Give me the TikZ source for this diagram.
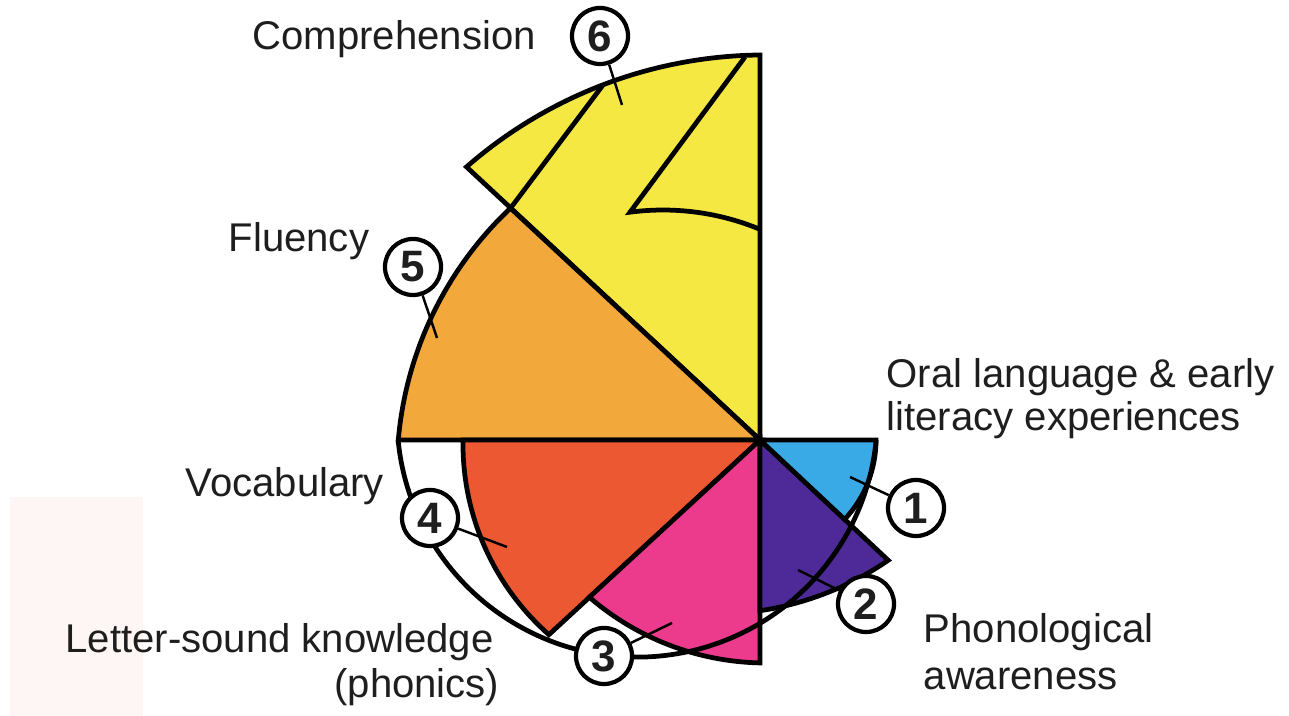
\documentclass[tikz,border=0pt]{standalone}
\usepackage{fontspec}
\setmainfont{Liberation Sans}
\usetikzlibrary{calc}
\definecolor{cYellow}{RGB}{245,232,66}
\definecolor{cOrange}{RGB}{242,168,58}
\definecolor{cRed}{RGB}{236,88,50}
\definecolor{cPink}{RGB}{236,58,140}
\definecolor{cPurple}{RGB}{78,42,152}
\definecolor{cBlue}{RGB}{58,170,230}
\definecolor{cWater}{RGB}{254,246,244}
\definecolor{cText}{RGB}{30,30,30}
\begin{document}
\begin{tikzpicture}[x=0.01cm,y=0.01cm,
  sector/.style={draw=black,line width=1.35pt,line join=miter},
  rim/.style={draw=black,line width=1.35pt},
  marker/.style={circle,draw=black,line width=1.2pt,fill=white,minimum size=0.56cm,inner sep=0pt,
    font=\fontsize{12.5}{14}\selectfont\bfseries,text=cText},
  tick/.style={draw=black,line width=0.7pt},
  lbl/.style={font=\fontsize{11.4}{13}\selectfont,inner sep=0pt,text=cText}]
\useasboundingbox (0,0) rectangle (1289,716);
% faint watermark
\fill[cWater] (10,0) rectangle (143,219);
\coordinate (C) at (760,276);
% sectors
\filldraw[sector,fill=cYellow] (C) -- (760,661) arc[start angle=90.6,end angle=131.15,radius=4.53cm] -- cycle;
\filldraw[sector,fill=cOrange] (C) -- (398.3,276) arc[start angle=175.07,end angle=133.3,radius=3.61cm] -- cycle;
\filldraw[sector,fill=cRed] (C) -- (463,276) arc[start angle=179.1,end angle=228.5,radius=2.545cm] -- cycle;
\filldraw[sector,fill=cPink] (C) -- (760,53.07) arc[start angle=268.73,end angle=229.16,radius=2.70cm] -- cycle;
\filldraw[sector,fill=cPurple] (C) -- (888.2,155.7) arc[start angle=-55.53,end angle=-81.54,radius=3.06cm] -- cycle;
\filldraw[sector,fill=cBlue] (C) -- (876,276) arc[start angle=0,end angle=-43.15,radius=1.16cm] -- cycle;
% inner strokes of the yellow part
\draw[sector] (510.5,507.8) -- (603,631);
\draw[sector] (745,659) -- (630,503.8) arc[start angle=97.5,end angle=67.4,radius=2.53cm];
% rim of the lower circle
\draw[rim] (398.1,276) arc[start angle=185.5,end angle=354.5,radius=2.4cm];
% markers
\coordinate (t1) at (850,239);
\coordinate (t2) at (798,146);
\coordinate (t3) at (672,93);
\coordinate (t4) at (507,169);
\coordinate (t5) at (437,378);
\coordinate (t6) at (622,611);
\node[marker] (m1) at (916,208) {1};
\node[marker] (m2) at (866,112) {2};
\node[marker] (m3) at (604,60) {3};
\node[marker] (m4) at (430,198) {4};
\node[marker] (m5) at (413,449) {5};
\node[marker] (m6) at (600,680) {6};
\draw[tick] (m1) -- (t1);
\draw[tick] (m2) -- (t2);
\draw[tick] (m3) -- (t3);
\draw[tick] (m4) -- (t4);
\draw[tick] (m5) -- (t5);
\draw[tick] (m6) -- (t6);
% labels
\node[lbl,anchor=base west] (comp) at (252,666) {Comprehension};
\node[lbl,anchor=base west] (flu) at (228,464) {Fluency};
\node[lbl,anchor=base west] (voc) at (185,219) {Vocabulary};
\node[lbl,anchor=base west] (oral1) at (886,328) {Oral language \& early};
\node[lbl,anchor=base west] (oral2) at (886,285) {literacy experiences};
\node[lbl,anchor=base west] (phon1) at (923,73) {Phonological};
\node[lbl,anchor=base west] (phon2) at (923,26) {awareness};
\node[lbl,anchor=base west] (let1) at (65,63) {Letter-sound knowledge};
\node[lbl,anchor=base east] (let2) at (500,18) {(phonics)};
\end{tikzpicture}
\end{document}
